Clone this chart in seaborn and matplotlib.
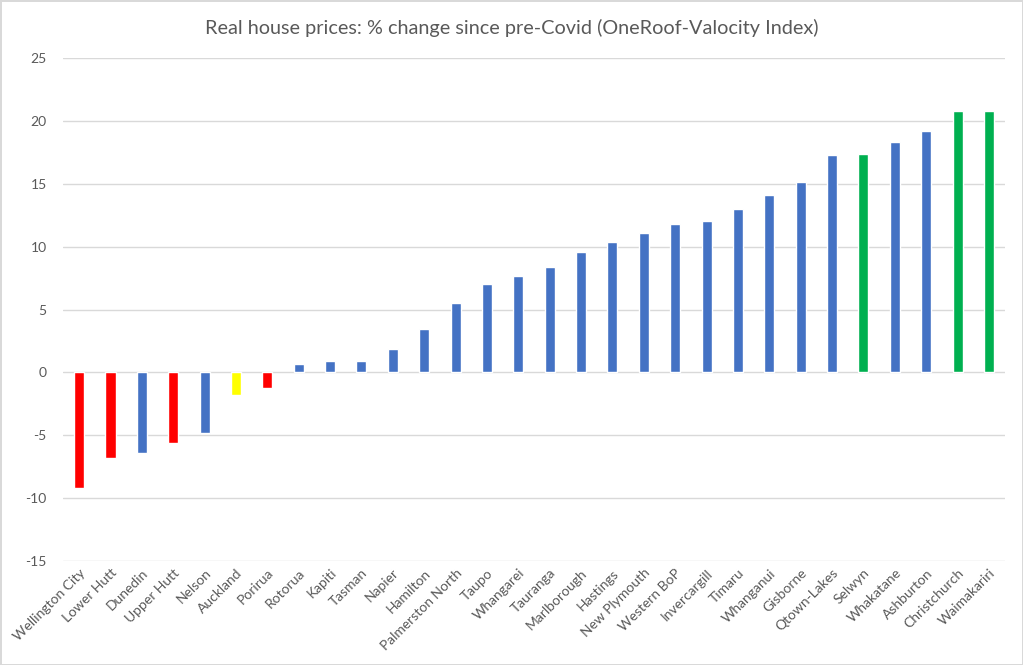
import numpy as np
import pandas as pd
import matplotlib
matplotlib.use("Agg")
import matplotlib.pyplot as plt
import seaborn as sns

# Data
regions = [
    "Wellington City", "Lower Hutt", "Dunedin", "Upper Hutt", "Nelson",
    "Auckland", "Porirua", "Rotorua", "Kapiti", "Tasman", "Napier",
    "Hamilton", "Palmerston North", "Taupo", "Whangarei", "Tauranga",
    "Marlborough", "Hastings", "New Plymouth", "Western BoP", "Invercargill",
    "Timaru", "Whanganui", "Gisborne", "Qtown-Lakes", "Selwyn", "Whakatane",
    "Ashburton", "Christchurch", "Waimakariri",
]
pct_change = [
    -9.2, -6.8, -6.4, -5.6, -4.8,
    -1.8, -1.2, 0.7, 0.9, 0.9, 1.85,
    3.45, 5.55, 7.0, 7.65, 8.4,
    9.55, 10.4, 11.1, 11.8, 12.0,
    13.0, 14.1, 15.15, 17.25, 17.4, 18.3,
    19.15, 20.75, 20.8,
]
group = [
    "red", "red", "blue", "red", "blue",
    "yellow", "red", "blue", "blue", "blue", "blue",
    "blue", "blue", "blue", "blue", "blue",
    "blue", "blue", "blue", "blue", "blue",
    "blue", "blue", "blue", "blue", "green", "blue",
    "blue", "green", "green",
]
palette = {"red": "#FF0000", "blue": "#4472C4", "yellow": "#FFFF00", "green": "#00B050"}

df = pd.DataFrame({"region": regions, "pct": pct_change, "group": group})

sns.set_style("white")
plt.rcParams["font.family"] = ["Lato", "DejaVu Sans"]
plt.rcParams["axes.unicode_minus"] = False

fig = plt.figure(figsize=(10.23, 6.65), dpi=100, edgecolor="#D9D9D9", linewidth=2)
ax = fig.add_axes([0.062, 0.156, 0.920, 0.757])

sns.barplot(data=df, x="region", y="pct", hue="group", palette=palette,
            width=0.32, legend=False, dodge=False, ax=ax, saturation=1)

ax.set_ylim(-15, 25)
ax.set_yticks(np.arange(-15, 26, 5))
ax.set_xlim(-0.5, len(regions) - 0.5)
ax.grid(axis="y", color="#D9D9D9", linewidth=1)
ax.set_axisbelow(True)
for s in ax.spines.values():
    s.set_visible(False)

ax.set_xlabel("")
ax.set_ylabel("")
ax.tick_params(axis="y", length=0, labelsize=10, colors="#595959", pad=12)
ax.tick_params(axis="x", length=0, labelsize=10, colors="#595959", pad=4)
plt.setp(ax.get_xticklabels(), rotation=45, ha="right", rotation_mode="anchor")

# title is centred on the whole figure, not the axes
fig.text(0.5, 0.958, "Real house prices: % change since pre-Covid (OneRoof-Valocity Index)",
         fontsize=14.3, color="#595959", ha="center", va="center")

fig.savefig("out.png", dpi=100)
